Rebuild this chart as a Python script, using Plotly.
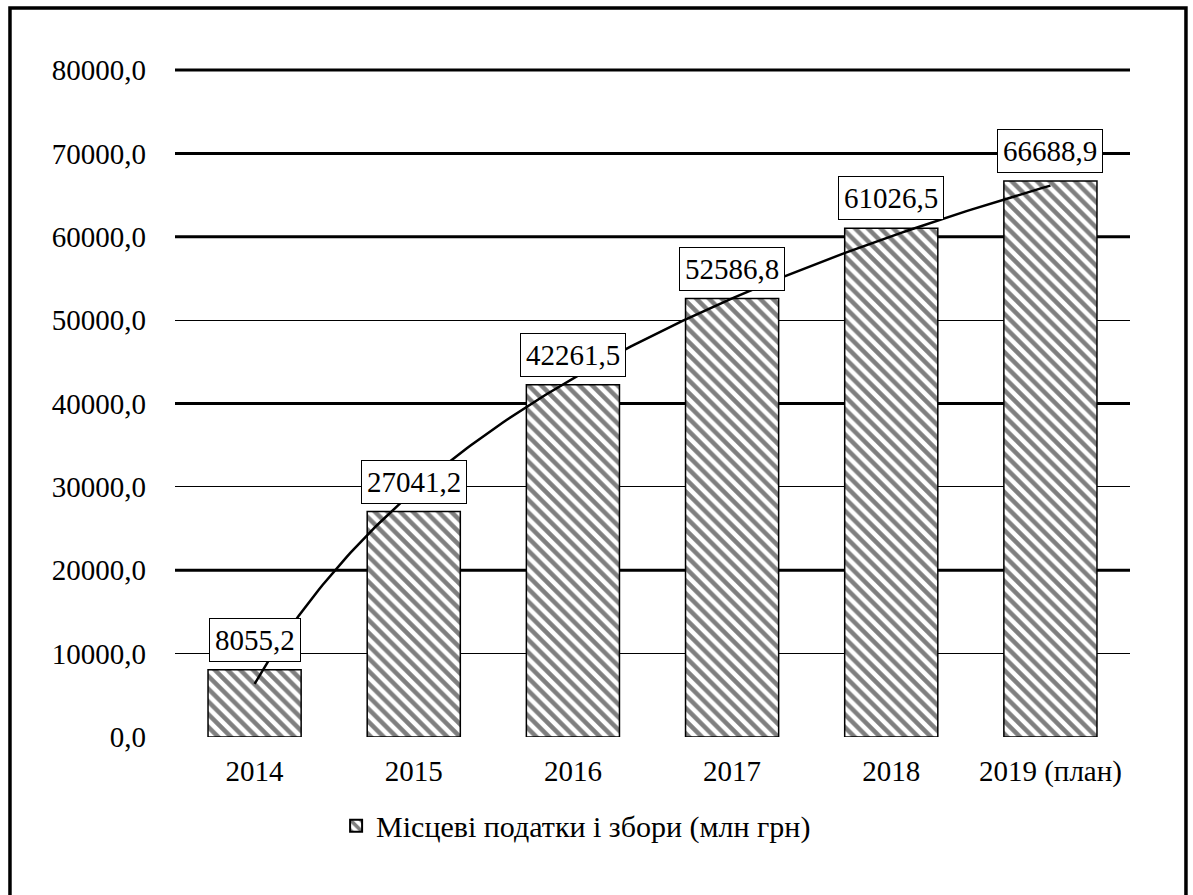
import numpy as np
import plotly.graph_objects as go

# Local taxes and fees, million UAH
years = ["2014", "2015", "2016", "2017", "2018", "2019 (план)"]
values = [8055.2, 27041.2, 42261.5, 52586.8, 61026.5, 66688.9]
series_name = "Місцеві податки і збори (млн грн)"

y_max = 80000
y_ticks = [0, 10000, 20000, 30000, 40000, 50000, 60000, 70000, 80000]
bold_grid = [20000, 40000, 60000, 70000, 80000]

FONT = "Liberation Serif"
x = np.arange(len(years))

fig = go.Figure()

fig.add_trace(go.Bar(
    x=x,
    y=values,
    width=0.585,
    name=series_name,
    marker=dict(
        color="white",
        line=dict(color="black", width=1.5),
        pattern=dict(shape="\\", fgcolor="black", bgcolor="white",
                     size=9, solidity=0.5),
    ),
    showlegend=True,
))

# Logarithmic trend line fitted to the series (y = a*ln(n) + b, n = 1..N)
n = x + 1
a, b = np.polyfit(np.log(n), values, 1)
xs = np.linspace(x[0], x[-1], 200)
fig.add_trace(go.Scatter(
    x=xs,
    y=a * np.log(xs + 1) + b,
    mode="lines",
    line=dict(color="black", width=2.5),
    showlegend=False,
    hoverinfo="skip",
))

# Value labels in boxes above each bar
for xi, v in zip(x, values):
    fig.add_annotation(
        x=xi, y=v, xref="x", yref="y",
        text=f"{v:.1f}".replace(".", ","),
        showarrow=False,
        yanchor="bottom", yshift=8,
        font=dict(family=FONT, size=29, color="black"),
        bgcolor="white", bordercolor="black", borderwidth=1, borderpad=5,
    )

shapes = []
# Heavier gridlines (paper coordinates so the top one is not clipped)
for gy in bold_grid:
    yp = gy / y_max
    shapes.append(dict(type="line", xref="paper", yref="paper",
                       x0=0, x1=1, y0=yp, y1=yp,
                       line=dict(color="black", width=3), layer="below"))
# Outer chart frame
shapes.append(dict(type="rect", xref="paper", yref="paper",
                   x0=-0.1728, x1=1.0586, y0=-0.4, y1=1.093,
                   line=dict(color="black", width=3.5), layer="below"))

fig.update_layout(
    width=1193, height=895,
    margin=dict(l=175, r=63, t=70, b=158),
    paper_bgcolor="white", plot_bgcolor="white",
    font=dict(family=FONT, size=29, color="black"),
    shapes=shapes,
    legend=dict(
        orientation="h",
        x=0.42, xanchor="center",
        y=-0.133, yanchor="middle",
        font=dict(family=FONT, size=30, color="black"),
        itemsizing="constant",
        bgcolor="rgba(0,0,0,0)",
    ),
    xaxis=dict(
        tickmode="array", tickvals=list(x), ticktext=years,
        range=[-0.5, len(years) - 0.5],
        showgrid=False, zeroline=False, showline=False,
        ticks="", ticklabelstandoff=14,
        tickfont=dict(family=FONT, size=29, color="black"),
    ),
    yaxis=dict(
        range=[0, y_max],
        tickmode="array", tickvals=y_ticks,
        ticktext=[f"{t:.1f}".replace(".", ",") for t in y_ticks],
        showgrid=True, gridcolor="black", gridwidth=1,
        zeroline=False, showline=False, ticks="",
        ticklabelstandoff=28,
        tickfont=dict(family=FONT, size=29, color="black"),
    ),
)

fig.write_html("out.html")
